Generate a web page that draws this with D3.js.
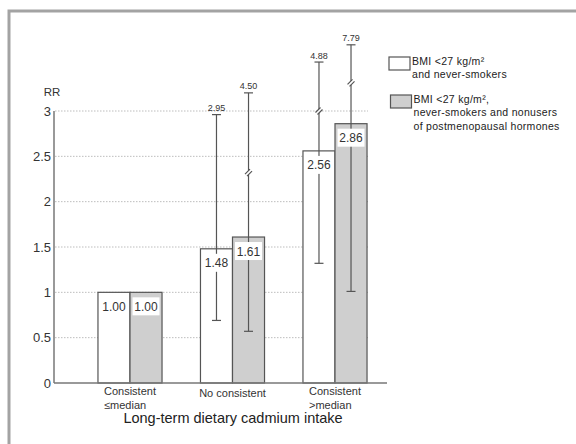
<!DOCTYPE html>
<html>
<head>
<meta charset="utf-8">
<script src="https://cdn.jsdelivr.net/npm/d3@7"></script>
<style>
  body { margin: 0; background: #fff; }
  svg { display: block; font-family: "Liberation Sans", Arial, sans-serif; }
</style>
</head>
<body>
<svg id="chart" width="576" height="444"></svg>
<script>
'use strict'

var categories = [['Consistent', '\u2264median'], ['No consistent'], ['Consistent', '>median']]
var series = ['a', 'b']
var legendLines = [
  ['BMI <27 kg/m\u00b2', 'and never-smokers'],
  ['BMI <27 kg/m\u00b2,', 'never-smokers and nonusers', 'of postmenopausal hormones']
]
var yTicks = [0, 0.5, 1, 1.5, 2, 2.5, 3]

// relative risks, lower and upper CI
var rrA = [1.00, 1.48, 2.56]
var rrB = [1.00, 1.61, 2.86]
var lowA = [null, 0.69, 1.32]
var lowB = [null, 0.57, 1.01]
var highA = [null, 2.95, 4.88]
var highB = [null, 4.50, 7.79]
// where the upper ends are drawn on the (broken) axis
var highShownA = [null, 2.96, 3.54]
var highShownB = [null, 3.20, 3.73]
var breakA = [null, null, 3.00]
var breakB = [null, 2.32, 3.31]

var svg = d3.select('#chart')
var catKeys = categories.map((d) => d.join(' '))

var y = d3.scaleLinear().domain([0, 3]).range([383, 111])
var x0 = d3.scaleBand().domain(catKeys).range([78.75, 386.25])
  .paddingInner(0.375).paddingOuter(0.1875)
var x1 = d3.scaleBand().domain(series).range([0, x0.bandwidth()])
var fills = { a: '#ffffff', b: '#cfcfcf' }

// frame
svg.append('path')
  .attr('d', 'M9,444V11H576')
  .attr('fill', 'none')
  .attr('stroke', '#a3a3a3')
  .attr('stroke-width', 3)

// gridlines
svg.append('g')
  .selectAll('line')
  .data(yTicks.slice(1))
  .enter().append('line')
    .attr('x1', 55)
    .attr('x2', 368)
    .attr('y1', (d) => y(d))
    .attr('y2', (d) => y(d))
    .attr('stroke', '#bdbdbd')
    .attr('stroke-dasharray', '1.5,1.5')

// y axis
var yAxis = svg.append('g')
  .attr('transform', 'translate(54,0)')
  .call(d3.axisLeft(y).tickValues(yTicks).tickSize(0).tickPadding(3).tickFormat(d3.format('')))
yAxis.select('.domain').remove()
yAxis.selectAll('text')
  .attr('font-size', 13)
  .attr('fill', '#333')
  .attr('font-family', '"Liberation Sans", Arial, sans-serif')

svg.append('line')
  .attr('x1', 54).attr('x2', 54)
  .attr('y1', y(3)).attr('y2', y(0))
  .attr('stroke', '#777').attr('stroke-width', 1.5)

svg.append('text')
  .attr('x', 52).attr('y', 96)
  .attr('text-anchor', 'middle')
  .attr('font-size', 11.5)
  .attr('fill', '#333')
  .text('RR')

// bars
var rows = []
catKeys.forEach((c, i) => {
  rows.push({ cat: c, s: 'a', rr: rrA[i], lo: lowA[i], hi: highA[i], hiShown: highShownA[i], br: breakA[i] })
  rows.push({ cat: c, s: 'b', rr: rrB[i], lo: lowB[i], hi: highB[i], hiShown: highShownB[i], br: breakB[i] })
})
var cx = (d) => x0(d.cat) + x1(d.s) + x1.bandwidth() / 2

svg.append('g')
  .selectAll('rect')
  .data(rows)
  .enter().append('rect')
    .attr('x', (d) => x0(d.cat) + x1(d.s))
    .attr('y', (d) => y(d.rr))
    .attr('width', x1.bandwidth())
    .attr('height', (d) => y(0) - y(d.rr))
    .attr('fill', (d) => fills[d.s])
    .attr('stroke', '#555')
    .attr('stroke-width', 1.2)

// x axis
svg.append('line')
  .attr('x1', 54).attr('x2', 387)
  .attr('y1', y(0)).attr('y2', y(0))
  .attr('stroke', '#777').attr('stroke-width', 1.5)

// error bars
var ci = rows.filter((d) => d.lo !== null)
var eg = svg.append('g').attr('stroke', '#555').attr('stroke-width', 1.2)
eg.selectAll('.stem')
  .data(ci)
  .enter().append('line')
    .attr('x1', cx).attr('x2', cx)
    .attr('y1', (d) => y(d.lo))
    .attr('y2', (d) => y(d.hiShown))
eg.selectAll('.lo')
  .data(ci)
  .enter().append('line')
    .attr('x1', (d) => cx(d) - 4.5).attr('x2', (d) => cx(d) + 4.5)
    .attr('y1', (d) => y(d.lo)).attr('y2', (d) => y(d.lo))
eg.selectAll('.hi')
  .data(ci)
  .enter().append('line')
    .attr('x1', (d) => cx(d) - 4.5).attr('x2', (d) => cx(d) + 4.5)
    .attr('y1', (d) => y(d.hiShown)).attr('y2', (d) => y(d.hiShown))

// axis breaks on the long intervals
var breaks = eg.selectAll('.brk')
  .data(ci.filter((d) => d.br !== null))
  .enter().append('g')
    .attr('transform', (d) => 'translate(' + cx(d) + ',' + y(d.br) + ')')
breaks.append('rect')
  .attr('x', -2).attr('y', -2).attr('width', 4).attr('height', 4)
  .attr('fill', '#fff').attr('stroke', 'none')
breaks.append('path')
  .attr('d', 'M-3.5,1.5L1.5,-3.5M-1.5,3.5L3.5,-1.5')
  .attr('fill', 'none')

svg.append('g')
  .selectAll('text')
  .data(ci)
  .enter().append('text')
    .attr('x', cx)
    .attr('y', (d) => y(d.hiShown) - 3.5)
    .attr('text-anchor', 'middle')
    .attr('font-size', 9)
    .attr('fill', '#333')
    .text((d) => d3.format('.2f')(d.hi))

// value labels
var vl = svg.append('g')
  .selectAll('g')
  .data(rows)
  .enter().append('g')
    .attr('transform', (d) => 'translate(' + cx(d) + ',' + (y(d.rr) + 14) + ')')
vl.append('rect')
  .attr('x', -13.5).attr('y', -9)
  .attr('width', 27).attr('height', 18)
  .attr('fill', '#fff')
vl.append('text')
  .attr('y', 4.5)
  .attr('text-anchor', 'middle')
  .attr('font-size', 12)
  .attr('fill', '#333')
  .text((d) => d3.format('.2f')(d.rr))

// category labels
categories.forEach((lines, i) => {
  var g = svg.append('g')
  var cxg = x0(catKeys[i]) + x0.bandwidth() / 2
  var t = g.selectAll('text')
    .data(lines)
    .enter().append('text')
      .attr('y', (d, j) => (lines.length > 1 ? 395 : 397) + j * 14)
      .attr('font-size', 11)
      .attr('fill', '#333')
      .text((d) => d)
  var w = t.node().getComputedTextLength()
  t.attr('x', cxg - w / 2)
})

svg.append('text')
  .attr('x', 233)
  .attr('y', 423)
  .attr('text-anchor', 'middle')
  .attr('font-size', 14.5)
  .attr('fill', '#222')
  .text('Long-term dietary cadmium intake')

// legend
var legendTop = [57, 95]
var lg = svg.append('g')
  .selectAll('g')
  .data(series)
  .enter().append('g')
    .attr('transform', (d, i) => 'translate(' + (389 + i * 1.5) + ',' + legendTop[i] + ')')
lg.append('rect')
  .attr('width', 21).attr('height', 13)
  .attr('fill', (d) => fills[d])
  .attr('stroke', '#555')
  .attr('stroke-width', 1.2)
lg.each(function (d, i) {
  d3.select(this).selectAll('text')
    .data(legendLines[i])
    .enter().append('text')
      .attr('x', 23)
      .attr('y', (t, j) => 7.5 + j * 13.5)
      .attr('font-size', 10.5)
      .attr('letter-spacing', 0.3)
      .attr('fill', '#222')
      .text((t) => t)
})
</script>
</body>
</html>
